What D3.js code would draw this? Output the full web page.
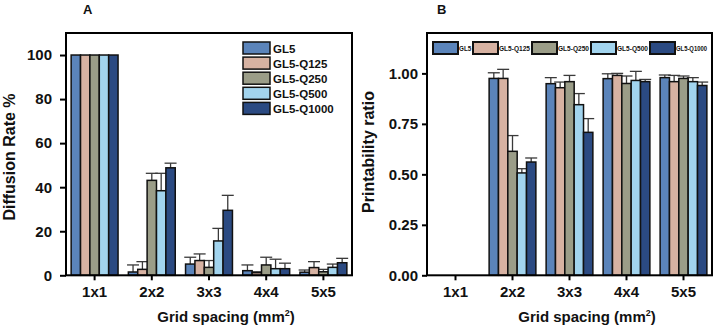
<!DOCTYPE html>
<html>
<head>
<meta charset="utf-8">
<script src="https://cdn.jsdelivr.net/npm/d3@7"></script>
<style>
  body { margin: 0; background: #fff; }
  svg text { font-family: "Liberation Sans", Arial, sans-serif; font-weight: bold; fill: #111; }
</style>
</head>
<body>
<svg id="chart" width="715" height="327"></svg>
<script>
// categories and series
var grids = ['1x1', '2x2', '3x3', '4x4', '5x5'];
var series = ['GL5', 'GL5-Q125', 'GL5-Q250', 'GL5-Q500', 'GL5-Q1000'];
var colors = ['#5b84ba', '#d7b2a2', '#9b9d88', '#a2d4ee', '#2b4a82'];

// panel A: diffusion rate %, one row per series (values by grid)
var diffGL5     = [100, 1.5, 5.1, 2.1, 1.4];
var diffQ125    = [100, 2.7, 6.7, 1.2, 3.5];
var diffQ250    = [100, 43.1, 3.6, 4.7, 1.6];
var diffQ500    = [100, 38.4, 15.6, 3.0, 3.6];
var diffQ1000   = [100, 48.8, 29.5, 3.0, 5.7];
// upper end of the error bars
var diffErrGL5   = [null, 4.7, 8.2, 4.7, 2.4];
var diffErrQ125  = [null, 6.2, 9.7, 1.6, 6.2];
var diffErrQ250  = [null, 46.3, 6.7, 8.2, 2.7];
var diffErrQ500  = [null, 46.3, 21.3, 7.3, 5.1];
var diffErrQ1000 = [null, 50.9, 36.3, 5.5, 7.7];
var diffTicks = [0, 20, 40, 60, 80, 100];

// panel B: printability ratio (no bars for 1x1)
var printGL5     = [null, 0.975, 0.949, 0.974, 0.979];
var printQ125    = [null, 0.975, 0.929, 0.990, 0.959];
var printQ250    = [null, 0.614, 0.959, 0.950, 0.975];
var printQ500    = [null, 0.507, 0.845, 0.965, 0.959];
var printQ1000   = [null, 0.561, 0.708, 0.959, 0.940];
var printErrGL5   = [null, 1.003, 0.979, 0.998, 0.992];
var printErrQ125  = [null, 1.020, 0.957, 1.000, 0.990];
var printErrQ250  = [null, 0.692, 0.990, 0.987, 0.987];
var printErrQ500  = [null, 0.528, 0.900, 1.010, 0.979];
var printErrQ1000 = [null, 0.581, 0.776, 0.970, 0.957];
var printTicks = [0, 0.25, 0.5, 0.75, 1.0];

var svg = d3.select('#chart');

//Builds the flat list of bars for one panel
function makeBars(vals, errs){
  var out = [];
  for(var s = 0; s < series.length; s++){
    for(var g = 0; g < grids.length; g++){
      if(vals[s][g] == null) continue;
      out.push({grid: grids[g], series: series[s], color: colors[s], v: vals[s][g], e: errs[s][g]});
    }
  }
  return out;
}

function drawPanel(p){
  var x0 = d3.scaleBand().domain(grids).range([p.left, p.right]).paddingInner(0.18).paddingOuter(0.09);
  var x1 = d3.scaleBand().domain(series).range([0, x0.bandwidth()]);
  var y = d3.scaleLinear().domain(p.domain).range([p.bottom, p.top]);
  var g = svg.append('g');

  var bars = makeBars(p.vals, p.errs);
  var cx = function(d){ return x0(d.grid) + x1(d.series) + x1.bandwidth()/2; };

  // error bars first (only upper part shows)
  var eb = g.selectAll('.err').data(bars.filter(function(d){ return d.e != null; })).enter().append('g').attr('class', 'err');
  eb.append('line')
    .attr('x1', cx).attr('x2', cx)
    .attr('y1', function(d){ return y(d.v); })
    .attr('y2', function(d){ return y(d.e); })
    .attr('stroke', '#3a3a3a').attr('stroke-width', 1.3);
  eb.append('line')
    .attr('x1', function(d){ return cx(d) - 6; })
    .attr('x2', function(d){ return cx(d) + 6; })
    .attr('y1', function(d){ return y(d.e); })
    .attr('y2', function(d){ return y(d.e); })
    .attr('stroke', '#3a3a3a').attr('stroke-width', 1.3);

  g.selectAll('.bar').data(bars).enter().append('rect').attr('class', 'bar')
    .attr('x', function(d){ return x0(d.grid) + x1(d.series); })
    .attr('width', x1.bandwidth())
    .attr('y', function(d){ return y(d.v); })
    .attr('height', function(d){ return y(0) - y(d.v); })
    .attr('fill', function(d){ return d.color; })
    .attr('stroke', '#111').attr('stroke-width', 1.5);

  // frame
  g.append('rect').attr('x', p.left).attr('y', p.top).attr('width', p.right - p.left).attr('height', p.bottom - p.top)
    .attr('fill', 'none').attr('stroke', '#000').attr('stroke-width', 2);

  var yAxis = g.append('g').attr('transform', 'translate(' + p.left + ',0)')
    .call(d3.axisLeft(y).tickValues(p.ticks).tickFormat(p.fmt).tickSize(p.tickLen).tickPadding(p.tickPad));
  yAxis.select('.domain').remove();
  yAxis.selectAll('line').attr('stroke', '#000').attr('stroke-width', 2);
  yAxis.selectAll('text').attr('font-size', 15).attr('fill', '#111');

  var xAxis = g.append('g').attr('transform', 'translate(0,' + p.bottom + ')')
    .call(d3.axisBottom(x0).tickSize(5).tickPadding(6));
  xAxis.select('.domain').remove();
  xAxis.selectAll('line').attr('stroke', '#000').attr('stroke-width', 2);
  xAxis.selectAll('text').attr('font-size', 15).attr('fill', '#111');

  // titles
  var xt = g.append('text').attr('x', p.xTitleX).attr('y', 322).attr('text-anchor', 'middle').attr('font-size', 15);
  xt.append('tspan').text('Grid spacing (mm');
  xt.append('tspan').attr('font-size', 9).attr('dy', -6).text('2');
  xt.append('tspan').attr('dy', 6).text(')');

  g.append('text').attr('transform', 'translate(' + p.yTitleX + ',' + p.yTitleY + ') rotate(-90)')
    .attr('text-anchor', 'middle').attr('font-size', 16).text(p.yTitle);

  g.append('text').attr('x', p.labelX).attr('y', 14).attr('font-size', 13).text(p.label);
  return g;
}

var gA = drawPanel({left: 66, right: 352, top: 33, bottom: 275.3, domain: [0, 110],
  vals: [diffGL5, diffQ125, diffQ250, diffQ500, diffQ1000],
  errs: [diffErrGL5, diffErrQ125, diffErrQ250, diffErrQ500, diffErrQ1000],
  ticks: diffTicks, fmt: d3.format('d'), tickLen: 6, tickPad: 8,
  xTitleX: 226, yTitle: 'Diffusion Rate %', yTitleX: 15, yTitleY: 157, label: 'A', labelX: 83});

var gB = drawPanel({left: 427, right: 712, top: 33, bottom: 275.3, domain: [0, 1.2],
  vals: [printGL5, printQ125, printQ250, printQ500, printQ1000],
  errs: [printErrGL5, printErrQ125, printErrQ250, printErrQ500, printErrQ1000],
  ticks: printTicks, fmt: d3.format('.2f'), tickLen: 5, tickPad: 4,
  xTitleX: 587, yTitle: 'Printability ratio', yTitleX: 374, yTitleY: 152, label: 'B', labelX: 437});

// legend A: vertical list
var legA = gA.append('g').attr('transform', 'translate(243,42)');
var rowA = legA.selectAll('g').data(series).enter().append('g')
  .attr('transform', function(d, i){ return 'translate(0,' + (i * 15.1) + ')'; });
rowA.append('rect').attr('width', 27).attr('height', 12)
  .attr('fill', function(d, i){ return colors[i]; }).attr('stroke', '#111').attr('stroke-width', 1.5);
rowA.append('text').attr('x', 30).attr('y', 10.5).attr('font-size', 11.5).text(function(d){ return d; });

// legend B: one row, tiny squeezed labels
var legB = gB.append('g').attr('transform', 'translate(433,42)');
var xpos = 0;
series.forEach(function(s, i){
  var item = legB.append('g').attr('transform', 'translate(' + xpos + ',0)');
  item.append('rect').attr('width', 25).attr('height', 12)
    .attr('fill', colors[i]).attr('stroke', '#111').attr('stroke-width', 2);
  var t = item.append('text').attr('x', 26).attr('y', 9).attr('font-size', 6.3).attr('fill', '#222').text(s);
  var w = s.length > 3 ? 31 : 12;
  if(s.length > 3) t.attr('textLength', 31).attr('lengthAdjust', 'spacingAndGlyphs');
  xpos += 26 + w + 2;
});
</script>
</body>
</html>
